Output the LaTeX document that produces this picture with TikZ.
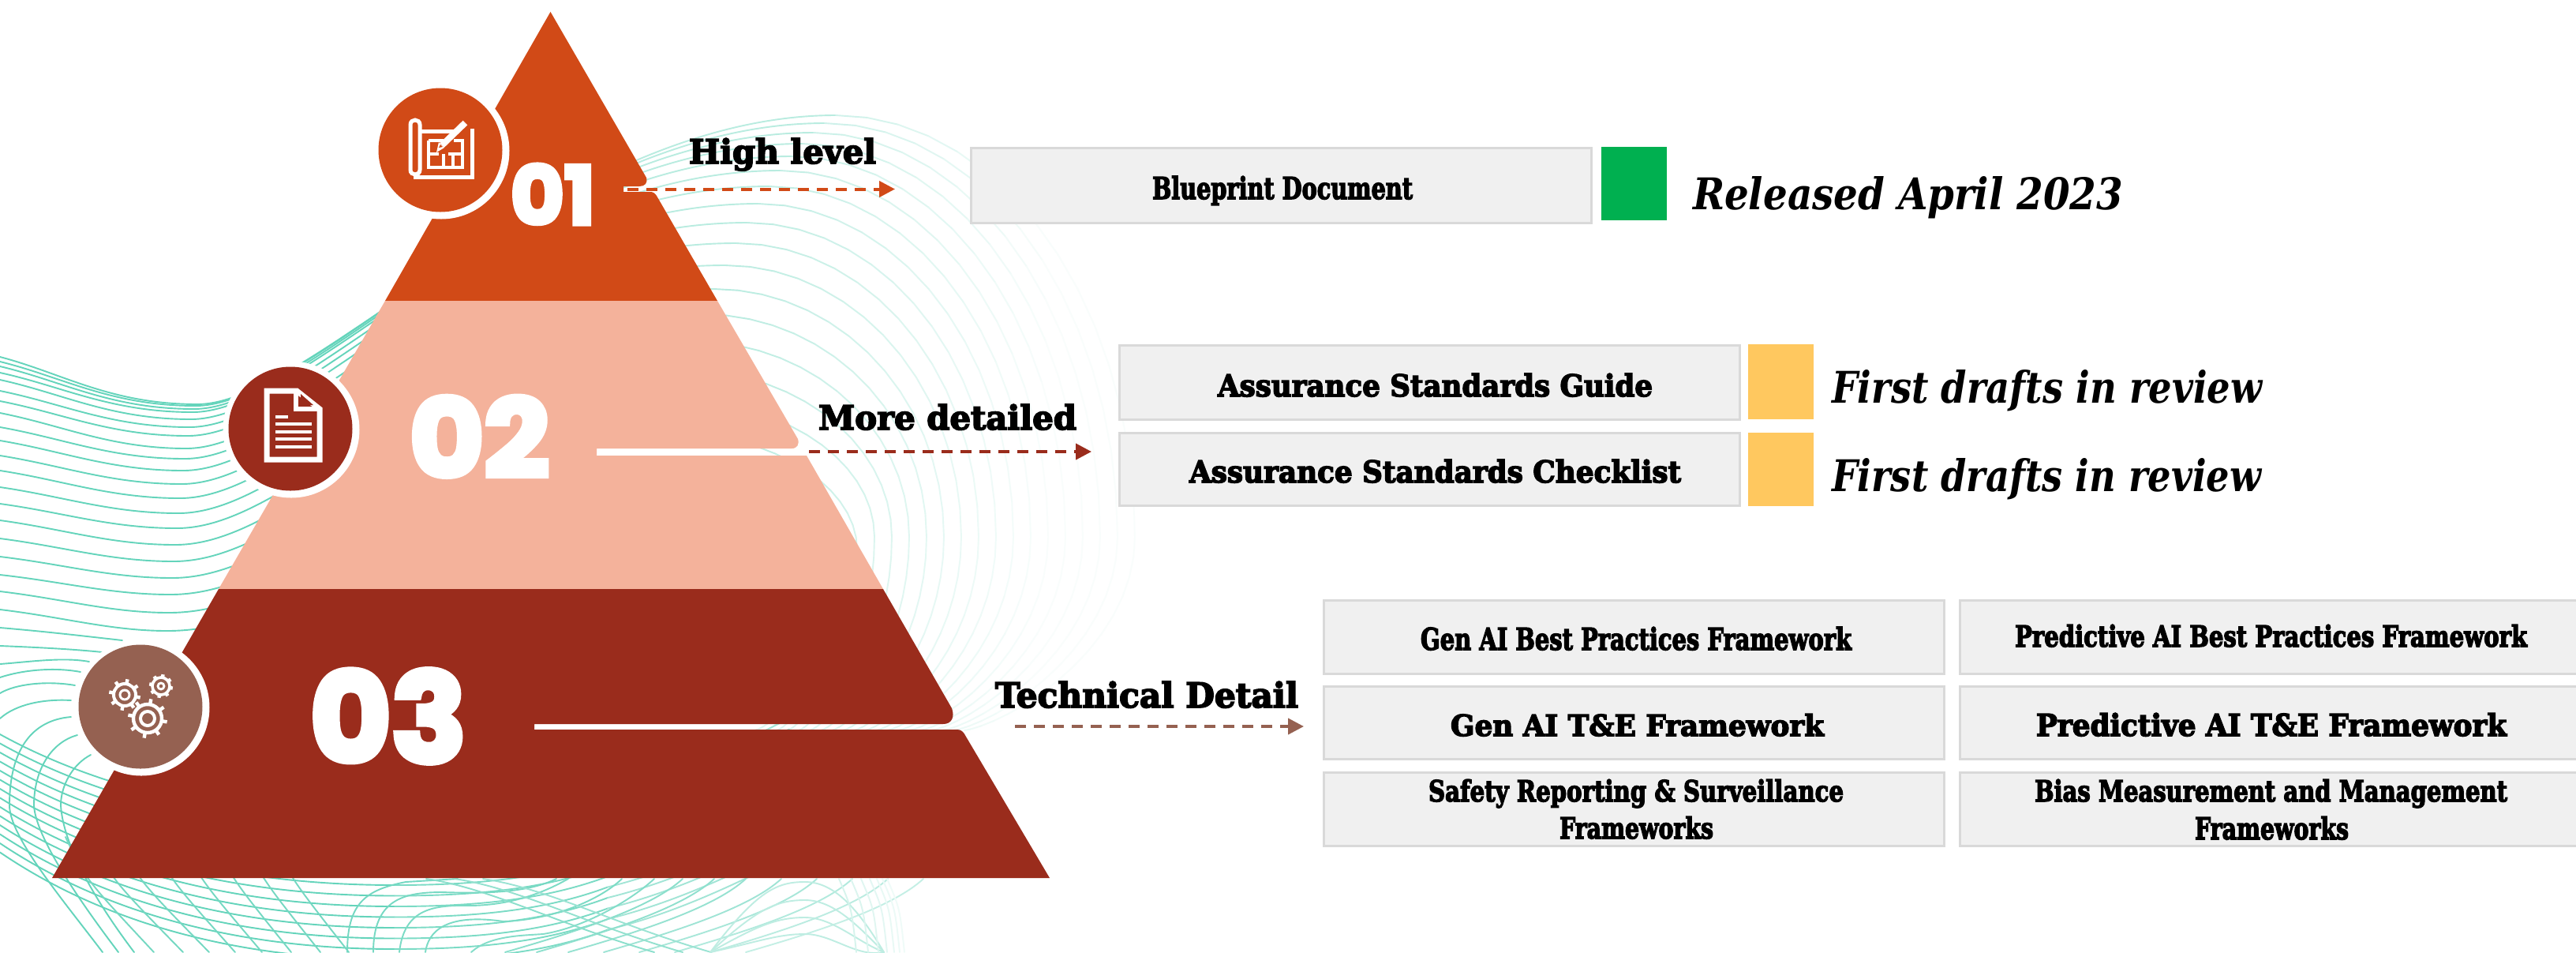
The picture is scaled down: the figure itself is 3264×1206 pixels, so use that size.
\documentclass[tikz,border=0pt]{standalone}
\usepackage{fontspec}
\usepackage{graphicx}
\usetikzlibrary{arrows.meta,calc}
\newfontfamily\slabf[BoldFeatures={FakeBold=4}]{DejaVu Serif}
\newfontfamily\slabi{DejaVu Serif}
\newfontfamily\numf[BoldFeatures={FakeBold=5}]{Poppins}
\definecolor{torange}{HTML}{D14A17}
\definecolor{tpeach}{HTML}{F4B29B}
\definecolor{tdark}{HTML}{9A2C1C}
\definecolor{tbrown}{HTML}{956151}
\definecolor{boxfill}{HTML}{F0F0F0}
\definecolor{boxline}{HTML}{D9D9D9}
\definecolor{tgreen}{HTML}{00B050}
\definecolor{tyellow}{HTML}{FFC85F}
\definecolor{waveline}{HTML}{64D4BB}
\newcommand\lab[7]{%
  \pgfmathsetlengthmacro\labW{(#4-#3)*0.5}%
  \pgfmathsetlengthmacro\labH{(#6-#5)*0.5}%
  \node[anchor=base west,inner sep=0pt,outer sep=0pt,text=#2] (#1) at (#3,#6) {\resizebox{\labW}{\labH}{#7}};}
\newcommand\bx[6]{%
  \pgfmathsetmacro\bxX{(#3+#5)/2}\pgfmathsetmacro\bxY{(#4+#6)/2}%
  \pgfmathsetlengthmacro\bxW{(#5-#3-3)*0.5}\pgfmathsetlengthmacro\bxH{(#6-#4-3)*0.5}%
  \node[#2,minimum width=\bxW,minimum height=\bxH] (#1) at (\bxX,\bxY) {};}
\newcommand\gearicon[7]{% cx cy ring ringwidth inner innerwidth teeth
  \draw[white,line width=#4*0.5pt] (#1,#2) circle[radius=#3];
  \draw[white,line width=#6*0.5pt] (#1,#2) circle[radius=#5];
  \foreach \ga in {0,45,...,315}{\draw[white,line width=4.4*0.5pt] ($(#1,#2)+(\ga+10:#3)$) -- ($(#1,#2)+(\ga+10:#7)$);}}
\tikzset{
  wave/.style={line width=0.95pt,line cap=round},
  plainbox/.style={draw=boxline,fill=boxfill,line width=1.5pt,inner sep=0pt,outer sep=0pt},
  swatch/.style={fill=#1,inner sep=0pt,outer sep=0pt},
  disc/.style={circle,fill=#1,inner sep=0pt,outer sep=0pt,minimum size=78.5pt},
  ringdisc/.style={circle,fill=white,inner sep=0pt,outer sep=0pt,minimum size=86.5pt},
  flow/.style={line width=2pt,dash pattern=on 7pt off 5pt,-{Triangle[length=10pt,width=10pt]}},
  icon/.style={white,line width=#1*0.5pt,line join=miter},
}
\begin{document}
\begin{tikzpicture}[x=0.5pt,y=-0.5pt]
\clip (0,0) rectangle (3264,1206);
\fill[white] (0,0) rectangle (3264,1206);
%---------- background: wave lines rising to the peak
\foreach \i/\yl/\yt in {0/452/512,1/458/514,2/464/518,3/472/522,4/481/531,5/495/541,6/508/552,7/523/568,8/541/581,9/558/596,10/577/613,11/596/631,12/617/650,13/638/669,14/659/690,15/682/711,16/705/732,17/728/753,18/749/776,19/772/799}{
  \pgfmathsetmacro\px{1059-14*\i}
  \pgfmathsetmacro\py{146+9*\i+\i*\i}
  \pgfmathsetmacro\rx{1438-22*\i}
  \pgfmathsetmacro\ry{max(680,\py+150)}
  \pgfmathsetmacro\ex{1222-14*\i}
  \pgfmathsetmacro\tx{250-2*\i}
  \pgfmathsetmacro\ca{\yl+(\yt-\yl)*0.35}
  \pgfmathsetmacro\cb{\tx+150}
  \pgfmathsetmacro\cc{\px-350}
  \begin{scope}
    \clip (0,0) rectangle (700,1206);
    \draw[wave,waveline] (0,\yl) .. controls (80,\ca) and (140,\yt) .. (\tx,\yt) .. controls (\cb,\yt) and (\cc,\py) .. (\px,\py);
  \end{scope}
  \begin{scope}
    \clip (700,0) rectangle (1300,1206);
    \draw[wave,waveline!45!white] (\tx,\yt) .. controls (\cb,\yt) and (\cc,\py) .. (\px,\py);
  \end{scope}
  \foreach \a in {0,6,...,84}{
    \pgfmathsetmacro\xa{\px+(\rx-\px)*sin(\a)}
    \pgfmathsetmacro\ya{\ry-(\ry-\py)*cos(\a)}
    \pgfmathsetmacro\xb{\px+(\rx-\px)*sin(\a+6)}
    \pgfmathsetmacro\yb{\ry-(\ry-\py)*cos(\a+6)}
    \pgfmathsetmacro\pp{max(4,min(46,46-0.1*(\xa-900)))}
    \draw[wave,waveline!\pp!white] (\xa,\ya) -- (\xb,\yb);
    \pgfmathsetmacro\xc{\ex+(\rx-\ex)*cos(\a)*sqrt(abs(cos(\a)))}
    \pgfmathsetmacro\yc{\ry+(925-\ry)*sin(\a)}
    \pgfmathsetmacro\xd{\ex+(\rx-\ex)*cos(\a+6)*sqrt(abs(cos(\a+6)))}
    \pgfmathsetmacro\yd{\ry+(925-\ry)*sin(\a+6)}
    \pgfmathsetmacro\qq{max(4,min(24,24-0.09*(\xc-1100)))}
    \draw[wave,waveline!\qq!white] (\xc,\yc) -- (\xd,\yd);
  }
}
%---------- lines meeting the lower circle
\draw[wave,waveline] (0,795) .. controls (60,800) and (110,806) .. (155,811);
\draw[wave,waveline] (0,818) .. controls (50,820) and (90,822) .. (130,826);
\draw[wave,waveline] (0,841) .. controls (40,838) and (80,832) .. (113,838);
\draw[wave,waveline] (0,858) .. controls (30,848) and (70,845) .. (102,851);
\draw[wave,waveline] (0,878) .. controls (20,866) and (60,862) .. (95,868);
\draw[wave,waveline] (0,910) .. controls (20,892) and (55,885) .. (90,887);
\draw[wave,waveline] (90,908) .. controls (40,912) and (12,950) .. (12,1020) .. controls (12,1060) and (80,1140) .. (130,1206);
\draw[wave,waveline] (98,931) .. controls (65,940) and (43,975) .. (43,1020) .. controls (45,1060) and (100,1140) .. (150,1206);
\draw[wave,waveline] (115,956) .. controls (92,968) and (77,995) .. (77,1020) .. controls (80,1070) and (120,1140) .. (170,1206);
%---------- mesh under the pyramid
\foreach \k in {0,...,13}{
  \pgfmathsetmacro\sa{930+11.5*\k}
  \pgfmathsetmacro\mn{1040+13.5*\k}
  \pgfmathsetmacro\ca{\sa+(\mn-\sa)*0.75}
  \pgfmathsetmacro\rb{\mn-130}
  \pgfmathsetmacro\rc{\mn-38}
  \draw[wave,waveline] (0,\sa) .. controls (150,\ca) and (330,\mn) .. (500,\mn);
  \draw[wave,waveline!85!white] (500,\mn) .. controls (600,\mn) and (690,\mn-8) .. (770,\rc);
  \draw[wave,waveline!60!white] (770,\rc) .. controls (860,\rc-22) and (940,\rb+30) .. (1000,\rb);
}
\foreach \xm/\xb in {108/195,141/232,174/265,215/298,253/332,294/369,332/406,369/442}{
  \pgfmathsetmacro\xt{\xm-25}
  \draw[wave,waveline!90!white] (\xt,1060) .. controls (\xm,1113) .. (\xb,1206);
}
\draw[wave,waveline!90!white] (440,1206) .. controls (440,1143) and (464,1127) .. (514,1117) -- (580,1113);
\draw[wave,waveline!88!white] (473,1206) .. controls (473,1140) and (510,1130) .. (560,1130) .. controls (620,1132) and (670,1130) .. (705,1113);
\draw[wave,waveline!85!white] (506,1206) .. controls (512,1150) and (550,1146) .. (597,1147) .. controls (650,1146) and (690,1130) .. (720,1113);
\draw[wave,waveline!85!white] (539,1206) .. controls (545,1165) and (590,1160) .. (638,1167) .. controls (700,1165) and (760,1140) .. (788,1113);
\draw[wave,waveline!80!white] (597,1206) .. controls (620,1185) and (660,1185) .. (688,1183) .. controls (740,1175) and (800,1140) .. (829,1113);
\foreach \b/\pq in {640/75,680/72,720/68,765/62,810/56,855/50,900/44,945/38}{
  \pgfmathsetmacro\tp{\b+225}
  \draw[wave,waveline!\pq!white] (\b,1206) .. controls (\b+90,1180) and (\tp-40,1150) .. (\tp,1113);
}
\foreach \d/\pq in {0/75,18/70,36/65}{
  \draw[wave,waveline!\pq!white] (540+\d*2,1113) .. controls (622+\d*2,1125) and (705+\d*2,1170) .. (829+\d*2,1206);
}
\foreach \h in {1117,1140,1162,1183}{
  \draw[wave,waveline!42!white] (900,1206) .. controls (960,\h+10) and (985,\h) .. (1020,\h) .. controls (1055,\h) and (1085,\h+30) .. (1120,1206);
}
\foreach \xv/\pq in {1085/26,1100/23,1113/20,1124/18,1133/15,1140/12,1146/10}{
  \pgfmathsetmacro\xt{\xv-22}
  \draw[wave,waveline!\pq!white] (\xt,1113) .. controls (\xv-6,1150) .. (\xv,1206);
}
%---------- pyramid
\fill[torange] (697.5,15) -- (819,225) .. controls (821,232) and (817,236) .. (810,236) -- (790,236) -- (790,243) -- (824,243) .. controls (828,243) and (830,245) .. (832,248) -- (909,381) -- (488,381) -- cycle;
\fill[tpeach] (488,381) -- (909,381) -- (1011,556) .. controls (1013,563) and (1010,568) .. (1003,568) -- (756,568) -- (756,577) -- (1022,577) -- (1119,746) -- (277,746) -- cycle;
\fill[tdark] (277,746) -- (1119,746) -- (1206,897) .. controls (1210,908) and (1206,917) .. (1195,917) -- (677,917) -- (677,924) -- (1213,924) .. controls (1218,924) and (1221,927) .. (1224,933) -- (1330,1112) -- (66,1112) -- cycle;
%---------- circles
\node[ringdisc] (ring1) at (559,191) {};
\node[ringdisc] (ring2) at (369,544) {};
\node[ringdisc] (ring3) at (179,896) {};
\node[disc=torange] (c1) at (558,190) {};
\node[disc=tdark] (c2) at (368,543) {};
\node[disc=tbrown] (c3) at (178,895) {};
%---------- blueprint icon
\draw[icon=5] (520,215) -- (520,158) .. controls (520,150) and (532,150) .. (532,158) -- (532,215) .. controls (532,223) and (520,223) .. (520,215);
\draw[icon=5] (532,166) -- (580,166);
\draw[icon=5] (598,163) -- (598,224) -- (524,224);
\draw[icon=4] (543,178) -- (562,178);
\draw[icon=4] (575,178) -- (586,178) -- (586,212) -- (543,212) -- (543,178);
\draw[icon=4] (543,195) -- (556,195) (568,195) -- (586,195) (562,195) -- (562,212) (574,195) -- (574,212);
\draw[white,line width=4pt,line cap=butt] (590,155) -- (560,184);
\fill[white] (553,193) -- (556,180) -- (563,187) -- cycle;
\fill[torange] (556,187) -- (558,183) -- (561,186) -- cycle;
\draw[torange,line width=0.6pt] (587,152) -- (596,161);
%---------- document icon
\draw[icon=7,line join=miter] (338,495) -- (376,495) -- (405,518) -- (405,582) -- (338,582) -- cycle;
\draw[icon=6] (375,494) -- (375,518) -- (406,518);
\fill[tdark] (381,499) -- (381,513) -- (397,513) -- cycle;
\draw[icon=4] (349,528) -- (365,528) (349,537) -- (395,537) (349,547) -- (395,547) (349,556) -- (395,556) (349,566) -- (395,566);
%---------- gears icon
\gearicon{158}{880}{14}{4}{6}{3}{20}
\gearicon{204}{869}{11}{3.6}{4}{2.8}{15}
\gearicon{187}{910}{18}{4.4}{9}{4}{25}
%---------- numbers
\lab{n1}{white}{647}{754}{208}{284}{\numf\bfseries 01}
\lab{n2}{white}{519}{696}{502}{604}{\numf\bfseries 02}
\lab{n3}{white}{393}{591}{848}{965}{\numf\bfseries 03}
%---------- arrows and their captions
\coordinate (a1s) at (795,239.5);
\coordinate (a1e) at (1134,239.5);
\coordinate (a2s) at (1025,572);
\coordinate (a2e) at (1383,572);
\coordinate (a3s) at (1286,920);
\coordinate (a3e) at (1652,920);
\draw[flow,torange] (a1s) -- (a1e);
\draw[flow,tdark] (a2s) -- (a2e);
\draw[flow,tbrown] (a3s) -- (a3e);
\lab{t1}{black}{873}{1110}{175}{207}{\slabf\bfseries High level}
\lab{t2}{black}{1037}{1364}{512}{544}{\slabf\bfseries More detailed}
\lab{t3}{black}{1261}{1645}{863}{896}{\slabf\bfseries Technical Detail}
%---------- boxes
\bx{b1}{plainbox}{1229}{186}{2018}{284}
\bx{b2}{plainbox}{1417}{436}{2206}{533}
\bx{b3}{plainbox}{1417}{547}{2206}{642}
\bx{f1}{plainbox}{1676}{759}{2465}{855}
\bx{f2}{plainbox}{1676}{868}{2465}{963}
\bx{f3}{plainbox}{1676}{977}{2465}{1073}
\bx{f4}{plainbox}{2482}{759}{3300}{855}
\bx{f5}{plainbox}{2482}{868}{3300}{963}
\bx{f6}{plainbox}{2482}{977}{3300}{1073}
\bx{s1}{swatch=tgreen}{2027.5}{184.5}{2113.5}{280.5}
\bx{s2}{swatch=tyellow}{2213.5}{434.5}{2299.5}{532.5}
\bx{s3}{swatch=tyellow}{2213.5}{546.5}{2299.5}{642.5}
%---------- box texts
\lab{x1}{black}{1460}{1790}{223}{252}{\slabf\bfseries Blueprint Document}
\lab{x2}{black}{1543}{2094}{473}{502}{\slabf\bfseries Assurance Standards Guide}
\lab{x3}{black}{1507}{2130}{582}{611}{\slabf\bfseries Assurance Standards Checklist}
\lab{x4}{black}{1800}{2346}{794}{823}{\slabf\bfseries Gen AI Best Practices Framework}
\lab{x5}{black}{2553}{3202}{791}{819}{\slabf\bfseries Predictive AI Best Practices Framework}
\lab{x6}{black}{1838}{2311}{904}{932}{\slabf\bfseries Gen AI T\&E Framework}
\lab{x7}{black}{2580}{3176}{903}{932}{\slabf\bfseries Predictive AI T\&E Framework}
\lab{x8}{black}{1810}{2336}{987}{1015}{\slabf\bfseries Safety Reporting \& Surveillance}
\lab{x9}{black}{1976}{2171}{1034}{1062}{\slabf\bfseries Frameworks}
\lab{x10}{black}{2578}{3177}{987}{1015}{\slabf\bfseries Bias Measurement and Management}
\lab{x11}{black}{2781}{2976}{1034}{1063}{\slabf\bfseries Frameworks}
%---------- status texts
\lab{r1}{black}{2145}{2690}{223}{265}{\slabi\bfseries\itshape Released April 2023}
\lab{r2}{black}{2321}{2866}{468}{510}{\slabi\bfseries\itshape First drafts in review}
\lab{r3}{black}{2321}{2865}{580}{622}{\slabi\bfseries\itshape First drafts in review}
\end{tikzpicture}
\end{document}
